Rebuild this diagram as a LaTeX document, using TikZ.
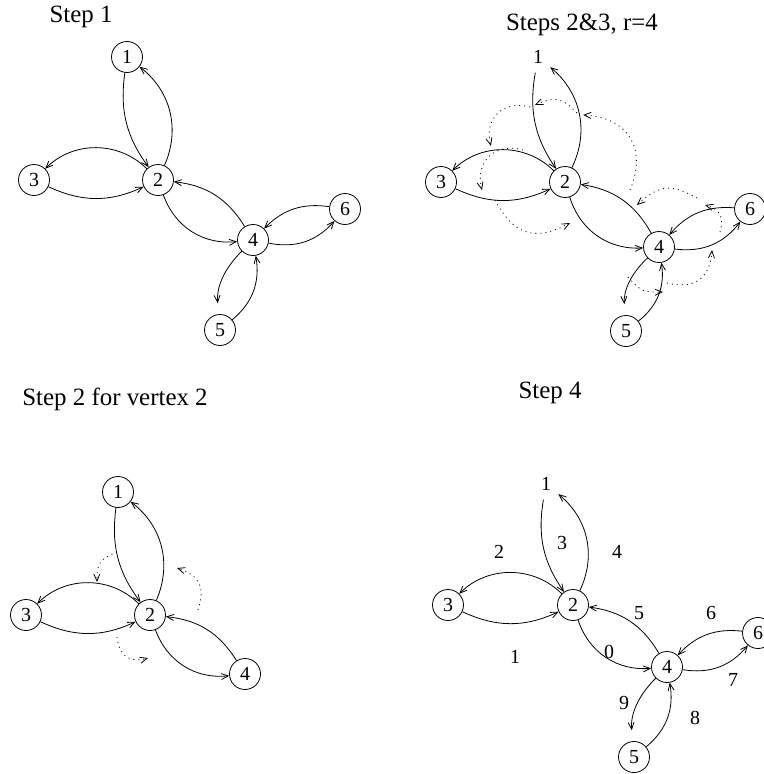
\documentclass[tikz,border=0pt]{standalone}
\usepackage{fontspec}
\setmainfont{Liberation Serif}
\usetikzlibrary{arrows.meta}
\tikzset
{
    vertex/.style  = {circle, draw=black, inner sep=0pt, minimum size=31bp, font=\fontsize{20}{24}\selectfont},
    bare/.style    = {vertex, draw=none},
    heading/.style = {anchor=base, font=\fontsize{25}{30}\selectfont},
    number/.style  = {font=\fontsize{20}{24}\selectfont},
    arrow/.style   = {->, bend right=#1},
    arrow/.default = 30,
    nextptr/.style = {->, dash pattern=on 1bp off 4bp, bend right=#1, looseness=1.3},
    nextptr/.default = 45
}

\begin{document}
\begin{tikzpicture}[x=1bp, y=-1bp, line width=0.8bp, >={Straight Barb[length=7bp,width=6bp]}]
	\useasboundingbox (0,0) rectangle (764,774);
	% headings
	\node (h1) [heading] at (81,23) {Step 1};
	\node (h2) [heading] at (582,31) {Steps 2\&3, r=4};
	\node (h3) [heading] at (115,405) {Step 2 for vertex 2};
	\node (h4) [heading] at (550,398) {Step 4};

	% Step 1
	\node (a1) [vertex] at (127,57) {1};
	\node (a2) [vertex] at (158,180) {2};
	\node (a3) [vertex] at (34,180) {3};
	\node (a4) [vertex] at (253,240) {4};
	\node (a5) [vertex] at (220,330) {5};
	\node (a6) [vertex] at (345,209) {6};

	% Steps 2&3
	\node (b1) [bare] at (538,57) {1};
	\node (b2) [vertex] at (565,182) {2};
	\node (b3) [vertex] at (441,182) {3};
	\node (b4) [vertex] at (659,247) {4};
	\node (b5) [vertex] at (626,331) {5};
	\node (b6) [vertex] at (750,209) {6};

	% Step 2 for vertex 2
	\node (c1) [vertex] at (118,492) {1};
	\node (c2) [vertex] at (150,615) {2};
	\node (c3) [vertex] at (26,615) {3};
	\node (c4) [vertex] at (245,674) {4};

	% Step 4
	\node (d1) [bare] at (546,484) {1};
	\node (d2) [vertex] at (573,605) {2};
	\node (d3) [vertex] at (448,605) {3};
	\node (d4) [vertex] at (667,667) {4};
	\node (d5) [vertex] at (634,757) {5};
	\node (d6) [vertex] at (758,633) {6};

	% tour edges
	\foreach \p in {a,b,d}
	{
		\foreach \u/\v/\b in {2/1/38, 1/2/22, 2/3/45, 3/2/25, 2/4/38, 4/2/26, 4/6/30, 6/4/27, 5/4/30}
			\draw [arrow=\b] (\p\u) to (\p\v);
		\draw [arrow=25, shorten >=11bp] (\p4) to (\p5);
	}
	\foreach \u/\v/\b in {2/1/38, 1/2/22, 2/3/45, 3/2/25, 2/4/38, 4/2/26}
		\draw [arrow=\b] (c\u) to (c\v);

	% ends of the successor pointers
	\foreach \n/\x/\y in {b42o/630/190, b21i/583/115, b21o/577/113, b12i/535/105, b12o/530/107, b23i/491/146,
		b23o/523/150, b32i/482/190, b32o/495/200, b24i/570/223, b64o/697/198, b42i/637/205,
		b46o/720/232, b64i/705/205, b54o/667/283, b46i/712/250, b45o/628/277, b54i/663/292,
		c12o/117/552, c23i/97/582, c32o/117/637, c24i/148/658, c42o/198/610, c21i/177/568}
		\coordinate (\n) at (\x,\y);

	% successor pointers
	\foreach \s/\e/\b in {b42o/b21i/55, b21o/b12i/35, b12o/b23i/60, b23o/b32i/60, b32o/b24i/45,
		b64o/b42i/35, b46o/b64i/45, b54o/b46i/50, b45o/b54i/25, c12o/c23i/35, c32o/c24i/50, c42o/c21i/45}
		\draw [nextptr=\b] (\s) to (\e);

	% tour numbers
	\node (l0) [number] at (609,652) {0};
	\node (l1) [number] at (515,657) {1};
	\node (l2) [number] at (499,552) {2};
	\node (l3) [number] at (562,543) {3};
	\node (l4) [number] at (617,552) {4};
	\node (l5) [number] at (639,613) {5};
	\node (l6) [number] at (711,613) {6};
	\node (l7) [number] at (733,680) {7};
	\node (l8) [number] at (695,718) {8};
	\node (l9) [number] at (624,703) {9};
\end{tikzpicture}
\end{document}
